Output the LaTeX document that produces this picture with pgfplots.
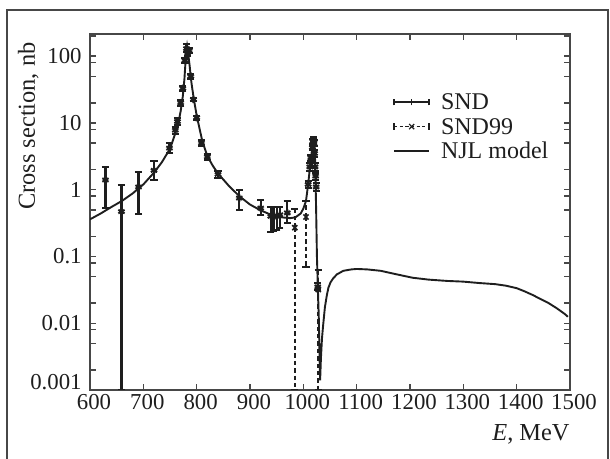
\documentclass[border=0pt]{standalone}
\usepackage{pgfplots}
\pgfplotsset{compat=1.18}
\usepackage{fontspec}
\setmainfont{Liberation Serif}
\definecolor{ink}{HTML}{1E1E1E}
\definecolor{axisgray}{HTML}{474747}
\begin{document}
\begin{tikzpicture}[font=\fontsize{12}{14}\selectfont]
\begin{axis}[
  scale only axis, width=240pt, height=178pt,
  xmin=600, xmax=1500, ymin=0.001, ymax=215,
  ymode=log,
  xtick={600,700,...,1500},
  ytick={0.001,0.01,0.1,1,10,100},
  yticklabels={\smash{0.001},0.01,0.1,1,10,100},
  minor ytick={0.002,0.005,0.008,0.02,0.05,0.08,0.2,0.5,0.8,2,5,8,20,50,80,200},
  tick align=inside,
  major tick length=3.2pt, minor tick length=3.2pt,
  every tick/.style={axisgray, line width=0.7pt},
  axis line style={axisgray, line width=1pt},
  /pgf/number format/1000 sep={},
  /pgf/number format/assume math mode=true,
  tick label style={font=\fontsize{11.4}{13.5}\selectfont, text=ink},
  yticklabel style={inner xsep=4pt},
  xticklabel style={inner ysep=1.8pt, xshift=2pt},
  xlabel={\textit{E}, MeV},
  ylabel={Cross section, nb},
  label style={font=\fontsize{12.2}{14}\selectfont, text=ink},
  xlabel style={at={([yshift=-17pt]axis description cs:1,0)}, anchor=north east, inner sep=0pt},
  ylabel style={at={([xshift=-25.5pt,yshift=-4pt]axis description cs:0,1)}, anchor=south east, inner sep=0pt},
  legend style={at={(rel axis cs:0.631,0.834)}, anchor=north west, draw=none, fill=none,
    inner sep=0pt, row sep=3.5pt, font=\fontsize{12}{14}\selectfont, text=ink,
    nodes={inner sep=0pt, text height=8.2pt, text depth=0.5pt},
    /tikz/every odd column/.append style={column sep=5.5pt}},
  legend cell align=left,
  error bars/error bar style={ink, line width=1.1pt},
  error bars/error mark options={ink, line width=1pt, mark size=1.8pt, rotate=90},
]
\addlegendimage{legend image code/.code={
  \draw[ink, line width=0.8pt] (0pt,0pt) -- (17.5pt,0pt);
  \draw[ink, line width=0.8pt] (0pt,-1.6pt) -- (0pt,1.6pt) (8.75pt,-1.6pt) -- (8.75pt,1.6pt) (17.5pt,-1.6pt) -- (17.5pt,1.6pt);}}
\addlegendentry{SND}
\addlegendimage{legend image code/.code={
  \draw[ink, line width=0.7pt, dash pattern=on 1.6pt off 1.2pt] (0pt,0pt) -- (17.5pt,0pt);
  \draw[ink, line width=0.7pt] (0pt,-1.6pt) -- (0pt,1.6pt) (17.5pt,-1.6pt) -- (17.5pt,1.6pt);
  \draw[ink, line width=0.6pt] (7.5pt,-1.3pt) -- (10pt,1.3pt) (7.5pt,1.3pt) -- (10pt,-1.3pt);}}
\addlegendentry{SND99}
\addlegendimage{legend image code/.code={
  \draw[ink, line width=0.9pt] (0pt,0pt) -- (17.5pt,0pt);}}
\addlegendentry{NJL model}

% NJL model curve
\addplot[forget plot, ink, line width=0.95pt] coordinates {
(600,0.36) (620,0.44) (640,0.55) (660,0.68) (680,0.88) (700,1.2) (720,1.8) (735,2.6)
(750,4.1) (760,7.0) (765,9.5) (770,15) (774,25) (777,45) (779,80) (781,130) (782,145)
(783,130) (785,95) (787,70) (789,48) (791,36) (795,22) (800,13) (805,8.5) (810,5.6)
(815,4.2) (820,3.2) (830,2.3) (840,1.75) (860,1.15) (880,0.80) (900,0.60) (920,0.49)
(940,0.42) (960,0.385) (975,0.375) (985,0.385) (995,0.44) (1000,0.52) (1005,0.68)
(1009,1.2) (1012,2.0) (1015,3.3) (1018,5.0) (1020,5.7) (1021,5.6) (1022.5,2.0)
(1024,0.5) (1025.5,0.1) (1027,0.04) (1029,0.012) (1030.5,0.003) (1031.5,0.0014)
(1033,0.003) (1035,0.006) (1037.5,0.01) (1040.5,0.0175) (1044,0.026) (1047,0.034)
(1051,0.041) (1056,0.047) (1063,0.054) (1075,0.061) (1090,0.064) (1100,0.065)
(1120,0.064) (1145,0.061) (1175,0.054) (1205,0.048) (1235,0.045) (1270,0.043)
(1300,0.042) (1330,0.040) (1360,0.0385) (1380,0.0365) (1400,0.0335) (1415,0.030)
(1430,0.0265) (1445,0.023) (1460,0.020) (1475,0.0168) (1490,0.0138) (1496,0.0125)
};

% SND
\addplot[forget plot, only marks, ink, mark=asterisk, mark size=1.8pt, mark options={line width=1pt},
  error bars/.cd, y dir=both, y explicit] coordinates {
(629,1.4) += (0,0.8) -= (0,0.87)
(659,0.47) += (0,0.72) -= (0,0.469)
(691,1.1) += (0,0.75) -= (0,0.66)
(720,1.95) += (0,0.7) -= (0,0.55)
(749,4.2) += (0,0.8) -= (0,0.7)
(760,7.8) += (0,1) -= (0,0.9)
(764,10.5) += (0,1.3) -= (0,1.1)
(770,20) += (0,2) -= (0,2)
(774,33) += (0,2.5) -= (0,2.5)
(778,87) += (0,8) -= (0,7)
(781,130) += (0,20) -= (0,15)
(783,112) += (0,12) -= (0,10)
(786,120) += (0,12) -= (0,10)
(789,50) += (0,4) -= (0,4)
(794,22.5) += (0,1.5) -= (0,1.5)
(800,12) += (0,0.8) -= (0,0.8)
(809,5.0) += (0,0.5) -= (0,0.5)
(820,3.1) += (0,0.3) -= (0,0.3)
(840,1.7) += (0,0.2) -= (0,0.2)
(880,0.75) += (0,0.23) -= (0,0.25)
(920,0.53) += (0,0.17) -= (0,0.11)
(939,0.40) += (0,0.15) -= (0,0.17)
(944,0.40) += (0,0.16) -= (0,0.16)
(950,0.40) += (0,0.16) -= (0,0.15)
(956,0.42) += (0,0.14) -= (0,0.15)
(970,0.45) += (0,0.23) -= (0,0.13)
(1009,1.2) += (0,0.15) -= (0,0.15)
(1012,2.2) += (0,0.3) -= (0,0.3)
(1014,3.0) += (0,0.3) -= (0,0.3)
(1016,2.6) += (0,0.3) -= (0,0.3)
(1017,4.3) += (0,0.4) -= (0,0.4)
(1018,5.3) += (0,0.5) -= (0,0.5)
(1019,5.6) += (0,0.5) -= (0,0.5)
(1020,5.0) += (0,0.5) -= (0,0.5)
(1021,3.5) += (0,0.4) -= (0,0.4)
(1022,2.2) += (0,0.3) -= (0,0.3)
(1023,1.6) += (0,0.2) -= (0,0.2)
(1024,1.1) += (0,0.15) -= (0,0.15)
(1027,0.035) += (0,0.005) -= (0,0.004)
};

% SND99
\addplot[forget plot, only marks, ink, mark=x, mark size=1.8pt, mark options={line width=0.8pt},
  error bars/.cd, y dir=both, y explicit,
  error bar style={ink, line width=0.8pt, dash pattern=on 2.2pt off 1.5pt}] coordinates {
(984,0.27) += (0,0.25) -= (0,0.269)
(1005,0.39) += (0,0.29) -= (0,0.32)
(1028,0.032) += (0,0.03) -= (0,0.031)
};
\end{axis}
\draw[axisgray, line width=0.7pt] (-41.5pt,-40pt) -- (-41.5pt,190pt) -- (259pt,190pt) -- (259pt,-40pt);
\pgfresetboundingbox
\path[use as bounding box] (-45pt,-34.5pt) rectangle (260pt,195pt);
\end{tikzpicture}
\end{document}
